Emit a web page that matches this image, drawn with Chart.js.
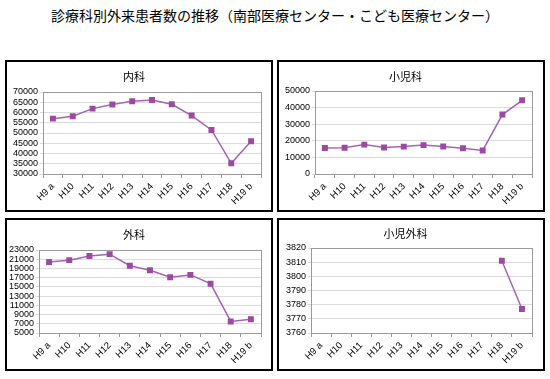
<!DOCTYPE html>
<html>
<head>
<meta charset="utf-8">
<script src="https://cdn.jsdelivr.net/npm/chart.js@4"></script>
<style>
  body { margin: 0; background: #fff; width: 550px; height: 379px; overflow: hidden; position: relative; }
  #title { position: absolute; left: 0; top: 5px; width: 550px; text-align: center;
    font: 14px "Noto Sans CJK JP", sans-serif; color: #000; line-height: 20px; }
  .panel { position: absolute; border: 2px solid #000; box-sizing: border-box; width: 268px; }
  .panel canvas { display: block; }
</style>
</head>
<body>
<div id="title">診療科別外来患者数の推移（南部医療センター・こども医療センター）</div>
<div class="panel" style="left:5px;top:60px;height:152px"><canvas id="c1" width="264" height="148"></canvas></div>
<div class="panel" style="left:277px;top:60px;height:152px"><canvas id="c2" width="264" height="148"></canvas></div>
<div class="panel" style="left:5px;top:218px;height:153px"><canvas id="c3" width="264" height="149"></canvas></div>
<div class="panel" style="left:277px;top:218px;height:153px"><canvas id="c4" width="264" height="149"></canvas></div>
<script>
const years = ["H9 a", "H10", "H11", "H12", "H13", "H14", "H15", "H16", "H17", "H18", "H19 b"];

const naika = [57000, 58200, 61900, 63900, 65500, 66100, 64000, 58500, 51500, 35200, 46000];
const shounika = [15700, 15800, 17700, 16000, 16500, 17400, 16600, 15500, 14200, 35800, 44400];
const geka = [20400, 20800, 21700, 22100, 19600, 18600, 17100, 17600, 15700, 7500, 8000];
const shouniGeka = [null, null, null, null, null, null, null, null, null, 3811, 3777];

const LINE = "#a463b3";
const MARK = "#9b4aa0";
const NUM_FONT = "'Liberation Sans', Arial, sans-serif";

// gray frame around the plot area, like the spreadsheet original
const plotBorder = {
  id: "plotBorder",
  beforeDatasetsDraw(chart) {
    const { ctx, chartArea: a } = chart;
    ctx.save();
    ctx.strokeStyle = "#9a9a9a";
    ctx.lineWidth = 1;
    ctx.strokeRect(Math.round(a.left) + 0.5, Math.round(a.top) + 0.5,
      Math.round(a.right - a.left), Math.round(a.bottom - a.top));
    ctx.restore();
  }
};

function makeChart(id, title, values, yMin, yMax, step, axisW, padRight, titlePad) {
  return new Chart(document.getElementById(id), {
    type: "line",
    data: {
      labels: years,
      datasets: [{
        data: values,
        borderColor: LINE,
        borderWidth: 1.5,
        backgroundColor: MARK,
        pointStyle: "rect",
        pointRadius: 4.2,
        pointBorderWidth: 0,
        pointBackgroundColor: MARK,
        tension: 0,
        spanGaps: false
      }]
    },
    options: {
      responsive: false,
      animation: false,
      layout: { padding: { left: 0, right: padRight, top: 0, bottom: 0 } },
      plugins: {
        legend: { display: false },
        tooltip: { enabled: false },
        title: {
          display: true,
          text: title,
          color: "#000",
          font: { family: "'Noto Sans CJK JP', sans-serif", size: 11, weight: "normal" },
          padding: { top: titlePad[0], bottom: titlePad[1] }
        }
      },
      scales: {
        x: {
          offset: true,
          grid: { offset: true, drawOnChartArea: false, tickLength: 4, color: "#9a9a9a" },
          border: { display: false },
          ticks: {
            minRotation: 45, maxRotation: 45, autoSkip: false, padding: 3,
            color: "#000", font: { family: NUM_FONT, size: 9.5 }
          },
          afterFit(s) { s.height = 36; }
        },
        y: {
          min: yMin, max: yMax,
          grid: { color: "#dcdcdc", tickLength: 3 },
          border: { display: false },
          ticks: {
            stepSize: step, autoSkip: false, padding: 2, color: "#000",
            font: { family: NUM_FONT, size: 9 },
            callback: v => String(v)
          },
          afterFit(s) { s.width = axisW; }
        }
      }
    },
    plugins: [plotBorder]
  });
}

makeChart("c1", "内科", naika, 30000, 70000, 5000, 36, 10, [8, 8.8]);
makeChart("c2", "小児科", shounika, 0, 50000, 10000, 36, 11, [8, 7.8]);
makeChart("c3", "外科", geka, 5000, 23000, 2000, 32, 10, [8, 8.8]);
makeChart("c4", "小児外科", shouniGeka, 3760, 3820, 10, 32, 11, [7, 7.8]);
</script>
</body>
</html>
